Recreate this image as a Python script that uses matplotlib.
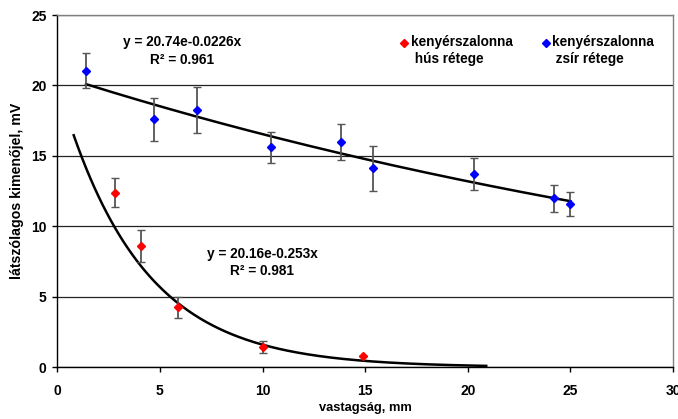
import numpy as np
import matplotlib
matplotlib.use('Agg')
from matplotlib import pyplot as plt

## Data ----------------------------------------------------------------------
# kenyérszalonna hús rétege (red)
hus_x = [2.8, 4.1, 5.9, 10.0, 14.9]
hus_y = [12.4, 8.6, 4.25, 1.45, 0.8]
hus_err = [1.0, 1.15, 0.72, 0.45, 0.0]

# kenyérszalonna zsír rétege (blue)
zsir_x = [1.4, 4.7, 6.8, 10.4, 13.8, 15.4, 20.3, 24.2, 25.0]
zsir_y = [21.05, 17.6, 18.27, 15.6, 16.0, 14.13, 13.7, 11.98, 11.6]
zsir_err = [1.23, 1.52, 1.65, 1.1, 1.3, 1.6, 1.12, 0.98, 0.86]

# exponential trendlines (from the chart labels)
hus_a, hus_b = 20.16, -0.253
zsir_a, zsir_b = 20.74, -0.0226
hus_range = (0.8, 20.9)
zsir_range = (1.4, 25.0)

legend_labels = ['kenyérszalonna\n hús rétege', 'kenyérszalonna\n zsír rétege']

## Plot ----------------------------------------------------------------------
plt.rcParams['font.family'] = ['Liberation Sans', 'DejaVu Sans']
plt.rcParams['font.weight'] = 'bold'

W, H = 678, 419
fig = plt.figure(figsize=(W / 100, H / 100), dpi=100)
ax = fig.add_axes([0.0845, 0.1234, 0.9081, 0.8408])

def px(x, y):
    # figure pixel (from top-left) -> figure fraction
    return x / W, 1 - y / H

ax.set_xlim(0, 30)
ax.set_ylim(0, 25)
ax.set_xticks(range(0, 31, 5))
ax.set_yticks(range(0, 26, 5))
ax.yaxis.grid(True, color='#222222', linewidth=0.9)
ax.set_axisbelow(True)

# trendlines
xx = np.linspace(*hus_range, 200)
ax.plot(xx, hus_a * np.exp(hus_b * xx), color='black', lw=1.8, zorder=3)
xx = np.linspace(*zsir_range, 200)
ax.plot(xx, zsir_a * np.exp(zsir_b * xx), color='black', lw=1.8, zorder=3)

# data with error bars
ax.errorbar(hus_x, hus_y, yerr=hus_err, fmt='D', color='red', ms=3.8,
            ecolor='#555555', elinewidth=1.3, capsize=3, capthick=1.0, zorder=4)
ax.errorbar(zsir_x, zsir_y, yerr=zsir_err, fmt='D', color='blue', ms=3.8,
            ecolor='#555555', elinewidth=1.3, capsize=3, capthick=1.0, zorder=4)

# trendline labels
fig.text(*px(182, 51), 'y = 20.74e-0.0226x\nR² = 0.961', fontsize=9.8,
         ha='center', va='center', multialignment='center', linespacing=1.35)
fig.text(*px(262, 262.5), 'y = 20.16e-0.253x\nR² = 0.981', fontsize=9.8,
         ha='center', va='center', multialignment='center', linespacing=1.35)

# legend (drawn by hand so the marker sits on the first line)
for (mx, tx), col, lab in zip([(404, 411), (546, 552)], ['red', 'blue'], legend_labels):
    fig.lines.append(plt.Line2D([mx / W], [1 - 43 / H], transform=fig.transFigure,
                                ls='none', marker='D', ms=3.8, color=col))
    fig.text(*px(tx, 35), lab, fontsize=9.8, ha='left', va='top', linespacing=1.25)

# axes styling
for s in ['left', 'bottom']:
    ax.spines[s].set_color('black')
    ax.spines[s].set_linewidth(1.0)
for s in ['top', 'right']:
    ax.spines[s].set_color('#808080')
    ax.spines[s].set_linewidth(1.0)
ax.tick_params(direction='out', length=3.8, width=1, labelsize=10)
ax.tick_params(axis='x', pad=8)
ax.tick_params(axis='y', pad=4)
for lab in ax.get_xticklabels() + ax.get_yticklabels():
    lab.set_fontweight('bold')

ax.set_xlabel('vastagság, mm', fontsize=9.3, fontweight='bold', labelpad=3)
ax.set_ylabel('látszólagos kimenőjel, mV', fontsize=10.2, fontweight='bold', labelpad=5)

plt.savefig('out.png', dpi=100)
